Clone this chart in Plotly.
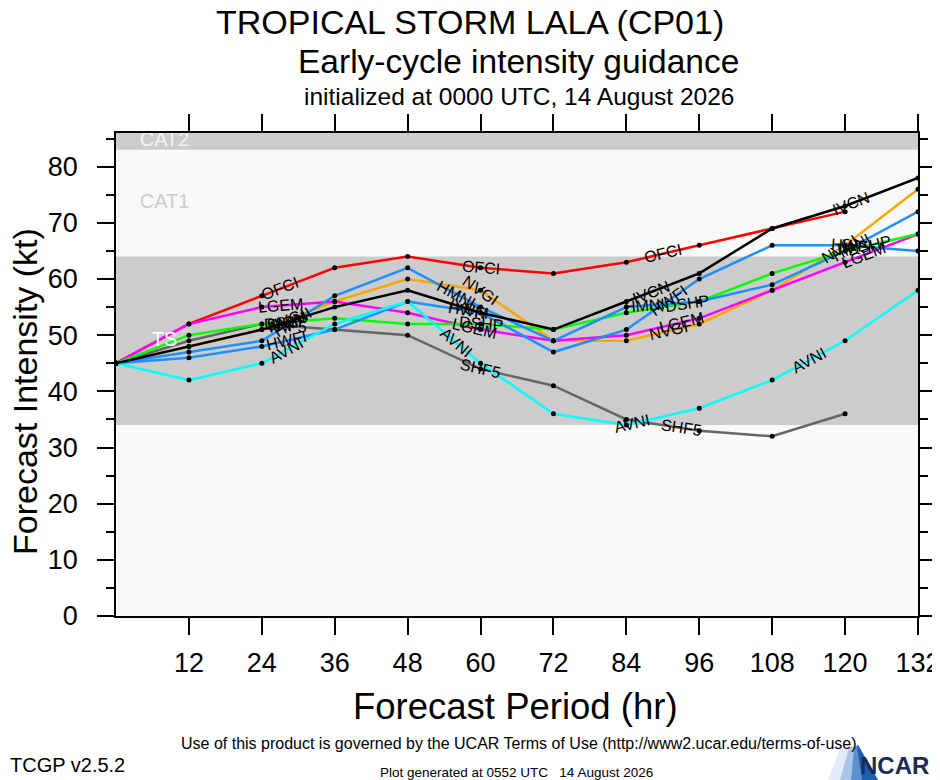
import math
import numpy as np
import plotly.graph_objects as go

# forecast hours and intensity (kt) per guidance model
hours = [0, 12, 24, 36, 48, 60, 72, 84, 96, 108, 120, 132]

ofci = [45, 52, 57, 62, 64, 62, 61, 63, 66, 69, 72, None]
nvgi = [45, 48, 51, 56, 60, 58, 49, 49, 52, 58, 66, 76]
shf5 = [45, 49, 52, 51, 50, 44, 41, 35, 33, 32, 36, None]
lgem = [45, 52, 55, 56, 54, 51, 49, 50, 53, 58, 63, 68]
dshp = [45, 50, 52, 53, 52, 52, 51, 54, 56, 61, 65, 68]
hwfi = [45, 46, 48, 51, 56, 54, 47, 51, 60, 66, 66, 65]
hmni = [45, 47, 49, 57, 62, 55, 49, 55, 56, 59, 65, 72]
avni = [45, 42, 45, 52, 56, 45, 36, 34, 37, 42, 49, 58]
ivcn = [45, 48, 51, 55, 58, 54, 51, 56, 61, 69, 73, 78]

x_ticks = [12, 24, 36, 48, 60, 72, 84, 96, 108, 120, 132]

# Saffir-Simpson bands
band_names = ["CAT2", "CAT1", "TS"]
band_mid = [84.5, 73.5, 49]
ts_band = [34, 64]
cat2_floor = 83

FONT = "Liberation Sans, Arial, Helvetica, sans-serif"
OFF = 8  # page body margin
W, H = 932, 772
L, R, T, B = 108, 22, 125, 164
X_MAX, Y_MAX = 132, 86
PW, PH = W - L - R, H - T - B
hr_px = PW / X_MAX
kt_px = PH / Y_MAX

models = [
    ("OFCI", ofci, "#ff0000", [27, 60, 90]),
    ("NVGI", nvgi, "#ffa500", [28, 60, 91, 119]),
    ("SHF5", shf5, "#666666", [28, 60, 93]),
    ("LGEM", lgem, "#ff00ff", [27, 59, 93, 123]),
    ("DSHP", dshp, "#00ff00", [28, 60, 94, 124]),
    ("HWFI", hwfi, "#1e90ff", [28, 58, 91, 121]),
    ("HMNI", hmni, "#1e90ff", [29, 56, 87, 121]),
    ("AVNI", avni, "#00ffff", [28, 56, 85, 114]),
    ("IVCN", ivcn, "#000000", [28, 58, 88, 121]),
]


def px(x):
    return (x - OFF - L) / PW


def py(y):
    return (H - B - (y - OFF)) / PH


fig = go.Figure()

for name, vals, color, _ in models:
    fig.add_trace(go.Scatter(
        x=hours, y=vals, mode="lines+markers", name=name,
        line=dict(color=color, width=2.5),
        marker=dict(color="black", size=5),
        hoverinfo="skip", showlegend=False,
    ))

# line labels along each track
annotations = []
for name, vals, color, label_hours in models:
    xs = [h for h, v in zip(hours, vals) if v is not None]
    ys = [v for v in vals if v is not None]
    for h in label_hours:
        i = min(int(h // 12), len(xs) - 2)
        dy = ys[i + 1] - ys[i]
        ang = -math.degrees(math.atan2(dy * kt_px, 12 * hr_px))
        annotations.append(dict(
            x=h, y=float(np.interp(h, xs, ys)), xref="x", yref="y",
            text=name, showarrow=False, textangle=ang,
            font=dict(family=FONT, size=16, color="black"),
        ))

# band labels, clipped to the plot frame
fig.add_trace(go.Scatter(
    x=[8] * 3, y=band_mid, mode="text", text=band_names,
    textfont=dict(family=FONT, size=20, color=["#f4f4f4", "#cccccc", "#ffffff"]),
    hoverinfo="skip", showlegend=False,
))

shapes = [
    dict(type="rect", xref="x", yref="y", x0=0, x1=X_MAX, y0=ts_band[0], y1=ts_band[1],
         fillcolor="#cccccc", line_width=0, layer="below"),
    dict(type="rect", xref="x", yref="y", x0=0, x1=X_MAX, y0=cat2_floor, y1=Y_MAX,
         fillcolor="#cccccc", line_width=0, layer="below"),
]

# NCAR swoosh
swoosh = [
    ([(840, 748), (858, 745), (878, 780), (828, 780)], "#e3edf8"),
    ([(849, 748), (858, 745), (878, 780), (840, 780)], "#a9c6e8"),
    ([(854, 748), (858, 745), (878, 780), (851, 780)], "#5b91d0"),
    ([(857, 747), (858, 745), (878, 780), (862, 780)], "#1f5fae"),
]
for pts, col in swoosh:
    path = "M " + " L ".join(f"{px(a):.4f},{py(b):.4f}" for a, b in pts) + " Z"
    shapes.append(dict(type="path", xref="paper", yref="paper", path=path,
                       fillcolor=col, line_width=0, layer="above"))


def text_at(x, y, s, size, xanchor="center", family=FONT, color="black", **kw):
    annotations.append(dict(x=px(x), y=py(y), xref="paper", yref="paper", text=s,
                            showarrow=False, xanchor=xanchor, yanchor="middle",
                            font=dict(family=family, size=size, color=color), **kw))


text_at(470, 22, "TROPICAL STORM LALA (CP01)", 34)
text_at(519, 62, "Early-cycle intensity guidance", 33.5)
text_at(519, 96, "initialized at 0000 UTC, 14 August 2026", 24.5)
text_at(515, 706, "Forecast Period (hr)", 36.5)
text_at(25, 392, "Forecast Intensity (kt)", 34, textangle=-90)
text_at(519, 743, "Use of this product is governed by the UCAR Terms of Use "
        "(http://www2.ucar.edu/terms-of-use)", 16)
text_at(8, 765, "TCGP v2.5.2", 20, xanchor="left")
text_at(516, 772, "Plot generated at 0552 UTC&nbsp;&nbsp;&nbsp;14 August 2026", 13.5)
text_at(931, 765, "<b>NCAR</b>", 24, xanchor="right",
        family="Liberation Sans Narrow, " + FONT, color="#1b2a57")

axis_common = dict(
    showline=True, linecolor="black", linewidth=1.5, mirror="allticks",
    ticks="outside", ticklen=17, tickwidth=1.5, tickcolor="black",
    showgrid=False, zeroline=False, automargin=False, ticklabeloverflow="allow",
    tickfont=dict(family=FONT, size=27, color="black"),
)

fig.update_layout(
    width=W, height=H,
    margin=dict(l=L, r=R, t=T, b=B),
    paper_bgcolor="white", plot_bgcolor="#f9f9f9",
    shapes=shapes, annotations=annotations,
    xaxis=dict(range=[0, X_MAX], tickvals=x_ticks, ticklabelstandoff=5, **axis_common),
    yaxis=dict(range=[0, Y_MAX], dtick=10, tick0=0, ticklabelstandoff=14,
               minor=dict(dtick=5, ticks="outside", ticklen=8, tickcolor="black", tickwidth=1.5),
               **axis_common),
)

fig.write_html("out.html")
